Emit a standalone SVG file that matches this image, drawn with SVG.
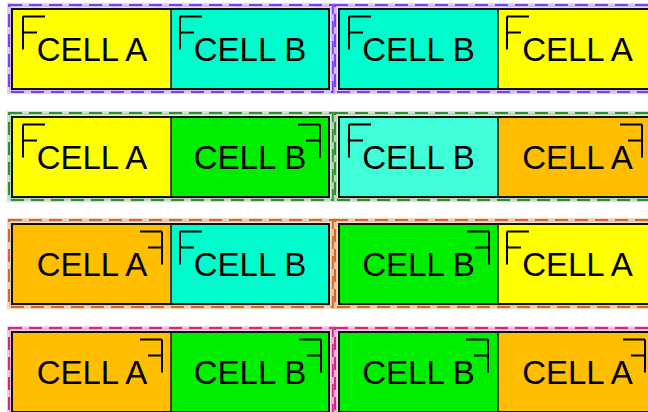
<svg xmlns="http://www.w3.org/2000/svg" width="648" height="412" viewBox="0 0 648 412">
<style>
.t{font-family:"Liberation Sans",Arial,sans-serif;font-size:33px;fill:#000;text-anchor:middle}
.f{fill:none;stroke:#000;stroke-width:2}
.tbl{fill:none;stroke:#111;stroke-width:2}
.div{stroke:#111;stroke-width:1.5}
.halo{stroke-width:4;stroke-opacity:0.45}
.dash{fill:none;stroke-width:2;stroke-dasharray:13 7}
.y{fill:#ffff00}.c{fill:#00fbcc}.c2{fill:#40ffd8}.o{fill:#ffbf00}.g{fill:#00ee00}
</style>
<defs>
<path id="fl" class="f" d="M0,0 V33 M0,0 H22 M0,16 H14"/>
<path id="fr" class="f" d="M0,0 V33 M0,0 H-22 M0,16 H-14"/>
</defs>

<g id="row1-left">
<rect x="9" y="5" width="324" height="87" fill="#e9dcff" stroke="#b49aff" class="halo"/>
<rect x="9" y="5" width="324" height="87" class="dash" stroke="#7a3cff"/>
<rect x="12" y="9" width="159" height="80" class="y"/><rect x="171" y="9" width="158" height="80" class="c"/>
<rect x="12" y="9" width="317" height="80" class="tbl"/><line x1="171" y1="9" x2="171" y2="89" class="div"/>
<use href="#fl" x="23" y="16.5"/><text class="t" x="92" y="60.5">CELL A</text>
<use href="#fl" x="180" y="16.5"/><text class="t" x="250" y="60.5">CELL B</text>
</g>
<g id="row1-right">
<rect x="335" y="5" width="324" height="87" fill="#e9dcff" stroke="#b49aff" class="halo"/>
<rect x="335" y="5" width="324" height="87" class="dash" stroke="#7a3cff"/>
<rect x="339" y="9" width="159" height="80" class="c"/><rect x="498" y="9" width="159" height="80" class="y"/>
<rect x="339" y="9" width="318" height="80" class="tbl"/><line x1="498" y1="9" x2="498" y2="89" class="div"/>
<use href="#fl" x="349" y="16.5"/><text class="t" x="418.5" y="60.5">CELL B</text>
<use href="#fl" x="507" y="16.5"/><text class="t" x="577.5" y="60.5">CELL A</text>
</g>

<g id="row2-left">
<rect x="9" y="113" width="324" height="87" fill="#d8ecd8" stroke="#8fc48f" class="halo"/>
<rect x="9" y="113" width="324" height="87" class="dash" stroke="#2f8f2f"/>
<rect x="12" y="117" width="159" height="80" class="y"/><rect x="171" y="117" width="158" height="80" class="g"/>
<rect x="12" y="117" width="317" height="80" class="tbl"/><line x1="171" y1="117" x2="171" y2="197" class="div"/>
<use href="#fl" x="23" y="124.5"/><text class="t" x="92" y="168.5">CELL A</text>
<use href="#fr" x="320" y="124.5"/><text class="t" x="250" y="168.5">CELL B</text>
</g>
<g id="row2-right">
<rect x="335" y="113" width="324" height="87" fill="#d8ecd8" stroke="#8fc48f" class="halo"/>
<rect x="335" y="113" width="324" height="87" class="dash" stroke="#2f8f2f"/>
<rect x="339" y="117" width="159" height="80" class="c2"/><rect x="498" y="117" width="159" height="80" class="o"/>
<rect x="339" y="117" width="318" height="80" class="tbl"/><line x1="498" y1="117" x2="498" y2="197" class="div"/>
<use href="#fl" x="349" y="124.5"/><text class="t" x="418.5" y="168.5">CELL B</text>
<use href="#fr" x="642" y="124.5"/><text class="t" x="577.5" y="168.5">CELL A</text>
</g>

<g id="row3-left">
<rect x="9" y="220" width="324" height="87" fill="#f6e0cc" stroke="#e0a878" class="halo"/>
<rect x="9" y="220" width="324" height="87" class="dash" stroke="#d0692a"/>
<rect x="12" y="224" width="159" height="80" class="o"/><rect x="171" y="224" width="158" height="80" class="c"/>
<rect x="12" y="224" width="317" height="80" class="tbl"/><line x1="171" y1="224" x2="171" y2="304" class="div"/>
<use href="#fr" x="162" y="231.5"/><text class="t" x="92" y="275.5">CELL A</text>
<use href="#fl" x="180" y="231.5"/><text class="t" x="250" y="275.5">CELL B</text>
</g>
<g id="row3-right">
<rect x="335" y="220" width="324" height="87" fill="#f6e0cc" stroke="#e0a878" class="halo"/>
<rect x="335" y="220" width="324" height="87" class="dash" stroke="#d0692a"/>
<rect x="339" y="224" width="159" height="80" class="g"/><rect x="498" y="224" width="159" height="80" class="y"/>
<rect x="339" y="224" width="318" height="80" class="tbl"/><line x1="498" y1="224" x2="498" y2="304" class="div"/>
<use href="#fr" x="489" y="231.5"/><text class="t" x="418.5" y="275.5">CELL B</text>
<use href="#fl" x="507" y="231.5"/><text class="t" x="577.5" y="275.5">CELL A</text>
</g>

<g id="row4-left">
<rect x="9" y="328" width="324" height="87" fill="#f6d4e6" stroke="#e88ebc" class="halo"/>
<rect x="9" y="328" width="324" height="87" class="dash" stroke="#d02a80"/>
<rect x="12" y="332" width="159" height="80" class="o"/><rect x="171" y="332" width="158" height="80" class="g"/>
<rect x="12" y="332" width="317" height="80" class="tbl"/><line x1="171" y1="332" x2="171" y2="412" class="div"/>
<use href="#fr" x="162" y="339.5"/><text class="t" x="92" y="383.5">CELL A</text>
<use href="#fr" x="321" y="339.5"/><text class="t" x="250" y="383.5">CELL B</text>
</g>
<g id="row4-right">
<rect x="335" y="328" width="324" height="87" fill="#f6d4e6" stroke="#e88ebc" class="halo"/>
<rect x="335" y="328" width="324" height="87" class="dash" stroke="#d02a80"/>
<rect x="339" y="332" width="159" height="80" class="g"/><rect x="498" y="332" width="159" height="80" class="o"/>
<rect x="339" y="332" width="318" height="80" class="tbl"/><line x1="498" y1="332" x2="498" y2="412" class="div"/>
<use href="#fr" x="488" y="339.5"/><text class="t" x="418.5" y="383.5">CELL B</text>
<use href="#fr" x="645" y="339.5"/><text class="t" x="577.5" y="383.5">CELL A</text>
</g>
<g id="connectors"/>
</svg>
